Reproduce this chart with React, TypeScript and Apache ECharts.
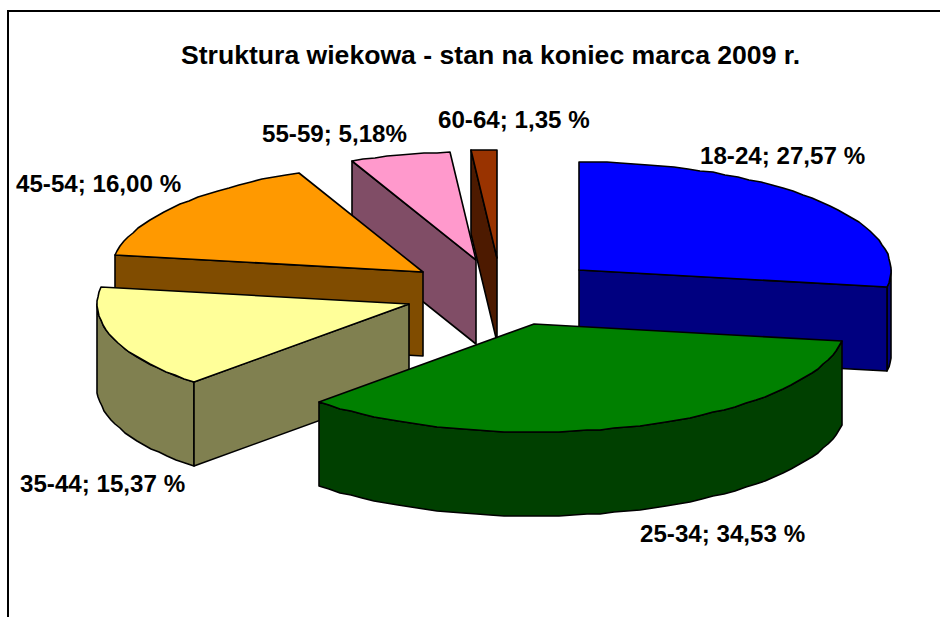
import React, { useEffect, useRef } from "react";
import * as echarts from "echarts";

const TITLE = "Struktura wiekowa - stan na koniec marca 2009 r.";
const categories = ["18-24", "25-34", "35-44", "45-54", "55-59", "60-64"];
const values = [27.57, 34.53, 15.37, 16.0, 5.18, 1.35];
const labels = [
  "18-24; 27,57 %",
  "25-34; 34,53 %",
  "35-44; 15,37 %",
  "45-54; 16,00 %",
  "55-59; 5,18%",
  "60-64; 1,35 %",
];

// layout and styling, separate from the data
const W = 940;
const H = 617;
const RX = 312;
const RY = 108;
const DEPTH = 84;
const FONT = "Liberation Sans, Arial, sans-serif";
const apexes = [[579, 270], [534, 324], [409, 304], [423, 272], [476, 260], [497, 258]];
const topColors = ["#0000FF", "#008000", "#FFFF99", "#FF9900", "#FF99CC", "#993300"];
const sideColors = ["#000080", "#004000", "#808050", "#804C00", "#804D66", "#4D1A00"];
const labelPos = [[700, 156], [640, 534], [20, 484], [16, 184], [262, 134], [438, 120]];
const drawOrder = [5, 4, 3, 2, 0, 1];

function App() {
  const ref = useRef<HTMLDivElement>(null);
  useEffect(() => {
    const chart = echarts.init(ref.current!, undefined, { renderer: "svg" });
    const total = values.reduce((a, b) => a + b, 0);
    const starts: number[] = [];
    values.reduce((acc, v, i) => {
      starts[i] = acc;
      return acc + (v / total) * 2 * Math.PI;
    }, 0);
    const line = { stroke: "#000", lineWidth: 1.6, lineJoin: "round" };

    const renderItem = (_p: any, api: any) => {
      const i = api.value(1);
      const a0 = starts[i];
      const a1 = a0 + (api.value(0) / total) * 2 * Math.PI;
      const [cx, cy] = apexes[i];
      const pt = (a: number, dz = 0) => [
        Math.round(cx + Math.sin(a) * RX),
        Math.round(cy - Math.cos(a) * RY + dz),
      ];
      const arc = (from: number, to: number, dz = 0) => {
        const n = Math.max(2, Math.ceil((to - from) / 0.045));
        const out: number[][] = [];
        for (let k = 0; k <= n; k++) out.push(pt(from + ((to - from) * k) / n, dz));
        return out;
      };
      const children: any[] = [];
      const side = (points: number[][]) =>
        children.push({ type: "polygon", shape: { points }, style: { fill: sideColors[i], ...line } });

      // outer rim, where it faces the viewer
      const r0 = Math.max(a0, Math.PI / 2);
      const r1 = Math.min(a1, (Math.PI * 3) / 2);
      if (r1 > r0) side([...arc(r0, r1), ...arc(r0, r1, DEPTH).reverse()]);
      // radial faces that look towards the viewer
      if (Math.sin(a0) < -1e-6)
        side([[cx, cy], pt(a0), pt(a0, DEPTH), [cx, cy + DEPTH]]);
      if (Math.sin(a1) > 1e-6)
        side([[cx, cy], pt(a1), pt(a1, DEPTH), [cx, cy + DEPTH]]);
      // top face
      children.push({
        type: "polygon",
        shape: { points: [[cx, cy], ...arc(a0, a1)] },
        style: { fill: topColors[i], ...line },
      });
      // label
      children.push({
        type: "text",
        z2: 100,
        x: labelPos[i][0],
        y: labelPos[i][1],
        scaleX: 1.05,
        style: {
          text: labels[i],
          fill: "#000",
          font: `bold 23px ${FONT}`,
          textAlign: "left",
          textVerticalAlign: "middle",
        },
      });
      return { type: "group", children };
    };

    chart.setOption({
      animation: false,
      backgroundColor: "#fff",
      graphic: [
        {
          type: "polyline",
          shape: { points: [[8, H], [8, 11], [W, 11]] },
          style: { stroke: "#000", lineWidth: 2, fill: "none" },
        },
        {
          type: "text",
          x: 181,
          y: 55,
          scaleX: 1.064,
          style: {
            text: TITLE,
            fill: "#000",
            font: `bold 25px ${FONT}`,
            textAlign: "left",
            textVerticalAlign: "middle",
          },
        },
      ],
      series: [
        {
          type: "custom",
          coordinateSystem: "none",
          silent: true,
          renderItem,
          data: drawOrder.map((i) => ({ name: categories[i], value: [values[i], i] })),
        },
      ],
    });
    return () => chart.dispose();
  }, []);
  return <div ref={ref} style={{ position: "absolute", left: 0, top: 0, width: W, height: H }} />;
}

export default App;
